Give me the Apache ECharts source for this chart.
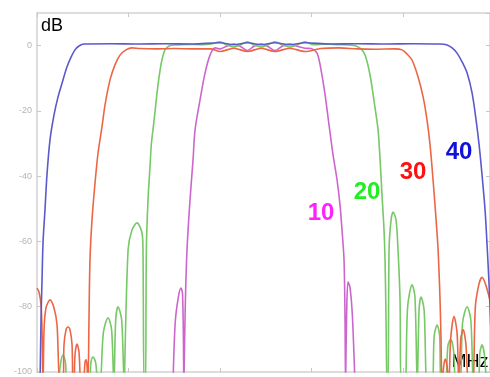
<!DOCTYPE html>
<html>
<head>
<meta charset="utf-8">
<script src="https://cdn.jsdelivr.net/npm/echarts@6/dist/echarts.min.js"></script>
<style>
html,body{margin:0;padding:0;background:#fff;}
#chart{width:490px;height:377px;}
</style>
</head>
<body>
<div id="chart"></div>
<script>
// Frequency axis (MHz, relative), magnitude axis (dB)
const xTicks = [0, 10, 20, 30, 40];
const yTickLabels = ['0', '-20', '-40', '-60', '-80', '-100'];
const seriesNames = ['10', '20', '30', '40'];

// [MHz, dB] pairs
const curve10 = [
  [14.86,-104],[15.1,-85],[15.45,-77],[15.74,-74.3],[15.9,-76],[16.0,-90],[16.05,-104],
  [16.1,-104],[16.2,-80],[16.39,-62.6],[16.72,-47.3],[17.05,-35],[17.27,-25.8],[17.81,-16.7],[18.36,-8.4],[18.91,-2.9],[19.45,-0.7],
  [20.0,-1.0],[20.7,-0.2],[21.5,0.5],[22.2,-0.2],[23,-1.5],[23.7,-0.2],[24.5,0.5],[25.2,-0.2],[26,-1.5],[26.8,-0.2],[27.6,0.5],[28.4,-0.2],[29.29,-0.8],
  [29.95,-0.9],[30.6,-2.3],[31.04,-7.5],[31.48,-15.1],[31.91,-24.3],[32.35,-33.5],[32.79,-41.2],[33.11,-48.8],[33.33,-56.5],[33.55,-65.7],[33.66,-84.1],[33.72,-104],
  [33.75,-104],[33.85,-80],[33.99,-72.4],[34.2,-74],[34.45,-82],[34.75,-104]
];
const curve20 = [
  [2.3,-104],[2.6,-97],[2.84,-94.8],[3.1,-97],[3.39,-104],
  [5.6,-104],[5.9,-97],[6.12,-95.4],[6.4,-97],[6.7,-104],
  [6.89,-104],[7.25,-88],[7.76,-83.4],[8.15,-87],[8.4,-104],
  [8.6,-84],[8.85,-80],[9.25,-84],[9.55,-104],
  [9.62,-104],[9.95,-62.6],[10.38,-56.5],[10.93,-54.3],[11.47,-57.4],[11.58,-62.6],[11.7,-104],
  [11.85,-104],[11.95,-62.6],[12.13,-47.3],[12.35,-37],[12.5,-30],[12.75,-24],[12.98,-18],[13.2,-12.5],[13.45,-7.5],[13.7,-3.8],[13.99,-1.3],[14.43,-0.1],
  [15.08,0.2],[16.5,0.4],[18,0.3],[19,0.5],[20,1.2],[20.7,0.2],[21.5,-0.4],[22.2,0.2],[23,1.2],[23.7,0.2],[24.5,-0.4],[25.2,0.2],[26,1.2],[26.8,0.2],[27.6,-0.4],[28.4,0.2],[29.3,1.2],[30.2,0.3],[31.5,0.5],[33,0.3],[34.2,0.2],
  [34.86,-0.1],[35.41,-1.0],[35.85,-2.9],[36.39,-9.0],[36.94,-19.1],[37.27,-25.8],[37.49,-35],[37.7,-45.8],[37.92,-56.5],[38.03,-65.7],[38.14,-84.1],[38.25,-104],
  [38.36,-104],[38.47,-62.6],[38.69,-53.4],[38.91,-51.0],[39.23,-53.4],[39.45,-62.6],[39.67,-77.9],[39.78,-104],
  [40.2,-104],[40.5,-80],[40.98,-73.3],[41.3,-77],[41.55,-104],
  [41.75,-81],[41.97,-77],[42.3,-81],[42.65,-104],
  [43.17,-104],[43.4,-89],[43.72,-85.6],[44.0,-89],[44.15,-104],
  [44.6,-104],[44.9,-92],[45.2,-90],[45.5,-93],[45.8,-104],
  [46.23,-104],[46.5,-85],[47.0,-80],[47.4,-84],[47.76,-104],
  [48.2,-104],[48.4,-94],[48.63,-91.7],[48.9,-95],[49.1,-104]
];
const curve30 = [
  [0,-74.3],[0.22,-75.5],[0.44,-79.5],[0.55,-87],[0.66,-104],
  [0.77,-87.1],[0.98,-80.4],[1.42,-77.9],[1.86,-80.4],[2.19,-85.6],[2.51,-104],
  [2.84,-104],[2.95,-91.7],[3.17,-87.1],[3.39,-86.2],[3.61,-87.1],[3.83,-91.7],[3.93,-104],
  [4.04,-104],[4.15,-94.8],[4.37,-91.4],[4.59,-93.9],[4.81,-104],
  [5.03,-104],[5.25,-96.9],[5.36,-96.3],[5.46,-97.8],[5.57,-104],
  [5.68,-84.1],[5.79,-65.7],[6.01,-53.4],[6.34,-42.1],[6.67,-32.9],[7.10,-24.9],[7.43,-18.2],[7.98,-10.5],[8.52,-5.9],[9.07,-2.9],[9.73,-1.3],[10.38,-0.7],
  [11.26,-0.9],[13,-1.0],[15,-0.9],[17,-1.0],[19,-1.0],[20,-1.8],[21.5,-0.8],[23,-1.8],[24.5,-0.8],[26,-1.8],[27.6,-0.8],[29.3,-1.8],[31,-0.9],[33,-0.7],[35,-1.0],[37,-1.1],[39.13,-1.0],
  [39.89,-1.3],[40.44,-2.6],[40.98,-4.4],[41.64,-9.6],[42.19,-15.7],[42.62,-22.8],[42.95,-30.4],[43.28,-41.2],[43.61,-53.4],[43.83,-62.6],[44.04,-77.9],[44.15,-90.2],[44.26,-104],
  [44.45,-98],[44.6,-96],[44.8,-98],[45.0,-104],
  [45.2,-90],[45.57,-83],[45.9,-88],[46.1,-104],
  [46.3,-90],[46.56,-87],[46.85,-91],[47.2,-104],
  [47.6,-104],[47.9,-80],[48.3,-73],[48.63,-71],[49.0,-73],[49.5,-78]
];
const curve40 = [
  [0.33,-104],[0.44,-84.1],[0.55,-71.8],[0.66,-60.2],[0.87,-50.4],[1.09,-39.6],[1.42,-28.9],[1.86,-21.2],[2.30,-15.7],[2.84,-10.5],[3.28,-6.5],[3.72,-3.5],[4.15,-1.3],[4.59,-0.1],
  [5.14,0.5],[8,0.6],[11,0.5],[14,0.6],[17,0.5],[20,0.9],[21.5,0.3],[23,0.9],[24.5,0.3],[26,0.9],[27.6,0.3],[29.3,0.9],[32,0.5],[35,0.6],[38,0.5],[41,0.6],[44.04,0.5],
  [44.81,0.2],[45.36,-0.7],[45.9,-2.3],[46.45,-5.0],[47.0,-8.4],[47.54,-14.5],[47.98,-22.8],[48.31,-30.4],[48.63,-39.6],[48.96,-50.4],[49.18,-61.1],[49.4,-73.3],[49.6,-87]
];

const lineColors = ['#cc66cc', '#77c866', '#ec6646', '#5a5acc'];
const labelColors = ['#ff22ff', '#22ee22', '#ff1111', '#1111dd'];

const chart = echarts.init(document.getElementById('chart'), null, {renderer: 'canvas'});
const axisGray = '#d2d2d2';
function xAx(pos) {
  return {
    type: 'value', position: pos, min: 0, max: 49.5, interval: 10,
    axisLine: {show: true, onZero: false, lineStyle: {color: axisGray, width: 1.5}},
    axisTick: {show: true, inside: true, length: 4, lineStyle: {color: '#c8c8c8'}},
    axisLabel: {show: false},
    splitLine: {show: false}
  };
}
function yAx(pos, showLabels) {
  return {
    type: 'value', position: pos, min: -100, max: 10, interval: 20,
    axisLine: {show: true, onZero: false, lineStyle: {color: axisGray, width: 1.5}},
    axisTick: {show: true, inside: true, length: 4, lineStyle: {color: '#c8c8c8'}},
    axisLabel: {
      show: showLabels, showMaxLabel: false, color: '#b4b4b4', fontSize: 9, margin: 5,
      fontFamily: 'Liberation Sans',
      formatter: function (v) { return yTickLabels.indexOf(String(v)) >= 0 ? String(v) : ''; }
    },
    splitLine: {show: false}
  };
}
const curves = [curve10, curve20, curve30, curve40];
const series = curves.map((c, i) => ({
  name: seriesNames[i], type: 'line', data: c, xAxisIndex: 0, yAxisIndex: 0,
  showSymbol: false, symbol: 'none', smooth: 0.3, clip: true,
  lineStyle: {color: lineColors[i], width: 1.6}
}));

const labelPos = [[321, 213], [367, 192], [413, 172], [459, 152]];
const graphics = seriesNames.map((n, i) => ({
  type: 'text', x: labelPos[i][0], y: labelPos[i][1],
  style: {text: n, fill: labelColors[i], font: 'bold 24px "Liberation Sans", Arial, sans-serif', align: 'center', verticalAlign: 'middle'}
}));
graphics.push({type: 'text', x: 41, y: 26, style: {text: 'dB', fill: '#000', font: '18px "Liberation Sans", Arial, sans-serif', align: 'left', verticalAlign: 'middle'}});
graphics.push({type: 'text', x: 470, y: 362, style: {text: 'MHz', fill: '#000', font: '18px "Liberation Sans", Arial, sans-serif', align: 'center', verticalAlign: 'middle'}});

chart.setOption({
  animation: false,
  backgroundColor: '#fff',
  grid: {left: 37, top: 13, right: 0, bottom: 5, containLabel: false},
  xAxis: [xAx('bottom'), xAx('top')],
  yAxis: [yAx('left', true), yAx('right', false)],
  series: series,
  graphic: graphics
});
</script>
</body>
</html>
